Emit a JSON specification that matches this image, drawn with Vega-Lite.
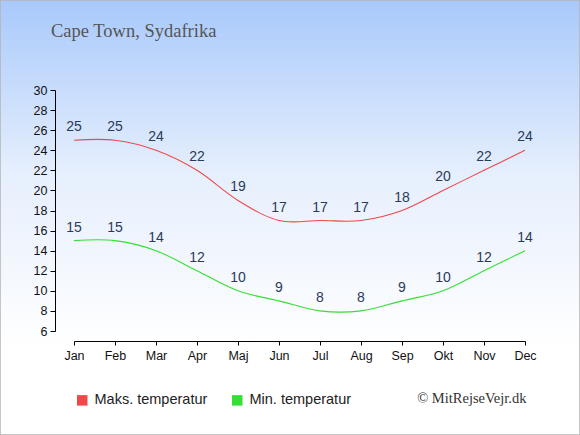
{
  "$schema": "https://vega.github.io/schema/vega-lite/v6.json",
  "width": 580,
  "height": 435,
  "autosize": "none",
  "padding": 0,
  "background": "#ffffff",
  "config": {
    "view": {
      "fill": {"gradient": "linear", "x1": 0, "y1": 0, "x2": 0, "y2": 1, "stops": [
        {"offset": 0, "color": "#a8c9fb"},
        {"offset": 0.4, "color": "#e6effd"},
        {"offset": 0.8, "color": "#ffffff"},
        {"offset": 1, "color": "#ffffff"}
      ]},
      "stroke": "#b4b4b4",
      "strokeWidth": 1.5
    }
  },
  "title": {
    "text": "Cape Town, Sydafrika",
    "anchor": "start",
    "frame": "group",
    "orient": "top",
    "offset": -55,
    "dx": 51,
    "baseline": "alphabetic",
    "font": "Liberation Serif",
    "fontSize": 18.5,
    "fontWeight": "normal",
    "color": "#555555"
  },
  "data": {
    "values": [
      {"month": "Jan", "series": "Maks. temperatur", "temp": 25},
      {"month": "Feb", "series": "Maks. temperatur", "temp": 25},
      {"month": "Mar", "series": "Maks. temperatur", "temp": 24},
      {"month": "Apr", "series": "Maks. temperatur", "temp": 22},
      {"month": "Maj", "series": "Maks. temperatur", "temp": 19},
      {"month": "Jun", "series": "Maks. temperatur", "temp": 17},
      {"month": "Jul", "series": "Maks. temperatur", "temp": 17},
      {"month": "Aug", "series": "Maks. temperatur", "temp": 17},
      {"month": "Sep", "series": "Maks. temperatur", "temp": 18},
      {"month": "Okt", "series": "Maks. temperatur", "temp": 20},
      {"month": "Nov", "series": "Maks. temperatur", "temp": 22},
      {"month": "Dec", "series": "Maks. temperatur", "temp": 24},
      {"month": "Jan", "series": "Min. temperatur", "temp": 15},
      {"month": "Feb", "series": "Min. temperatur", "temp": 15},
      {"month": "Mar", "series": "Min. temperatur", "temp": 14},
      {"month": "Apr", "series": "Min. temperatur", "temp": 12},
      {"month": "Maj", "series": "Min. temperatur", "temp": 10},
      {"month": "Jun", "series": "Min. temperatur", "temp": 9},
      {"month": "Jul", "series": "Min. temperatur", "temp": 8},
      {"month": "Aug", "series": "Min. temperatur", "temp": 8},
      {"month": "Sep", "series": "Min. temperatur", "temp": 9},
      {"month": "Okt", "series": "Min. temperatur", "temp": 10},
      {"month": "Nov", "series": "Min. temperatur", "temp": 12},
      {"month": "Dec", "series": "Min. temperatur", "temp": 14}
    ]
  },
  "encoding": {
    "x": {
      "field": "month",
      "type": "ordinal",
      "sort": ["Jan", "Feb", "Mar", "Apr", "Maj", "Jun", "Jul", "Aug", "Sep", "Okt", "Nov", "Dec"],
      "scale": {
        "type": "point",
        "domain": ["Jan", "Feb", "Mar", "Apr", "Maj", "Jun", "Jul", "Aug", "Sep", "Okt", "Nov", "Dec"],
        "range": [74, 525],
        "padding": 0
      },
      "axis": {
        "orient": "bottom",
        "offset": -94,
        "grid": false,
        "labelAngle": 0,
        "labelFont": "Liberation Sans",
        "labelFontSize": 12.5,
        "labelColor": "#111111",
        "labelPadding": 4,
        "tickSize": 4,
        "tickColor": "#000000",
        "domainColor": "#000000",
        "title": "© MitRejseVejr.dk",
        "titleX": 526,
        "titleY": 57,
        "titleAlign": "right",
        "titleBaseline": "middle",
        "titleAngle": 0,
        "titleFont": "Liberation Serif",
        "titleFontSize": 14.5,
        "titleFontWeight": "normal",
        "titleColor": "#333333"
      }
    },
    "y": {
      "field": "temp",
      "type": "quantitative",
      "scale": {"domain": [6, 30], "range": [331, 90], "nice": false, "zero": false},
      "axis": {
        "orient": "left",
        "offset": -55,
        "values": [6, 8, 10, 12, 14, 16, 18, 20, 22, 24, 26, 28, 30],
        "grid": false,
        "title": null,
        "labelFont": "Liberation Sans",
        "labelFontSize": 12.5,
        "labelColor": "#111111",
        "labelPadding": 3,
        "tickSize": 5,
        "tickColor": "#000000",
        "domainColor": "#000000"
      }
    }
  },
  "resolve": {"legend": {"color": "independent"}},
  "layer": [
    {
      "mark": {"type": "line", "interpolate": "cardinal", "strokeWidth": 1.1},
      "encoding": {
        "color": {
          "field": "series",
          "type": "nominal",
          "scale": {"domain": ["Maks. temperatur", "Min. temperatur"], "range": ["#f04848", "#33e033"]},
          "legend": null
        }
      }
    },
    {
      "mark": {"type": "point", "filled": true, "shape": "square", "size": 0, "opacity": 1},
      "encoding": {
        "color": {
          "field": "series",
          "type": "nominal",
          "scale": {"domain": ["Maks. temperatur", "Min. temperatur"], "range": ["#f04848", "#33e033"]},
          "legend": {
            "orient": "none",
            "legendX": 75,
            "legendY": 393,
            "direction": "horizontal",
            "title": null,
            "symbolType": "square",
            "symbolSize": 110,
            "symbolOpacity": 1,
            "symbolStrokeWidth": 0,
            "labelFont": "Liberation Sans",
            "labelFontSize": 14.5,
            "labelColor": "#222222",
            "labelOffset": 5,
            "columnPadding": 22
          }
        }
      }
    },
    {
      "mark": {"type": "text", "dy": -13, "baseline": "middle", "font": "Liberation Sans", "fontSize": 14, "color": "#2b3a5a"},
      "encoding": {
        "text": {"field": "temp", "type": "quantitative"},
        "detail": {"field": "series"}
      }
    }
  ]
}
